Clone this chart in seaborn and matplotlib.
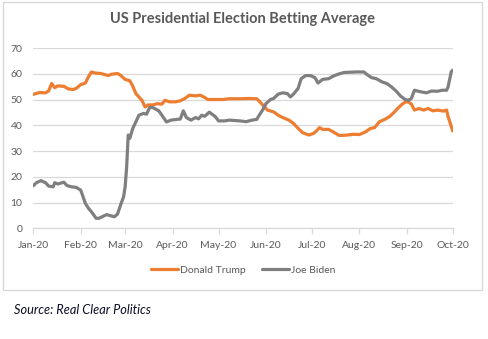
import matplotlib
matplotlib.use("Agg")
import matplotlib.pyplot as plt
import matplotlib.dates as mdates
from matplotlib.patches import Rectangle
from matplotlib.lines import Line2D
import seaborn as sns
import pandas as pd

title = "US Presidential Election Betting Average"
source = "Source: Real Clear Politics"
series_names = ["Donald Trump", "Joe Biden"]
colors = ["#ED7D31", "#7F7F7F"]

trump_dates = ["2020-01-01", "2020-01-05", "2020-01-09", "2020-01-11", "2020-01-13", "2020-01-15",
               "2020-01-17", "2020-01-21", "2020-01-24", "2020-01-27", "2020-01-29", "2020-02-01",
               "2020-02-04", "2020-02-06", "2020-02-08", "2020-02-10", "2020-02-14", "2020-02-19",
               "2020-02-21", "2020-02-25", "2020-02-27", "2020-03-01", "2020-03-04", "2020-03-06",
               "2020-03-08", "2020-03-10", "2020-03-12", "2020-03-14", "2020-03-16", "2020-03-19",
               "2020-03-22", "2020-03-25", "2020-03-27", "2020-03-30", "2020-04-03", "2020-04-06",
               "2020-04-09", "2020-04-12", "2020-04-16", "2020-04-19", "2020-04-22", "2020-04-24",
               "2020-04-29", "2020-05-04", "2020-05-08", "2020-05-15", "2020-05-21", "2020-05-26",
               "2020-05-28", "2020-05-30", "2020-06-02", "2020-06-06", "2020-06-09", "2020-06-12",
               "2020-06-16", "2020-06-19", "2020-06-22", "2020-06-25", "2020-06-29", "2020-07-02",
               "2020-07-04", "2020-07-06", "2020-07-08", "2020-07-12", "2020-07-15", "2020-07-19",
               "2020-07-24", "2020-07-28", "2020-08-01", "2020-08-05", "2020-08-08", "2020-08-11",
               "2020-08-14", "2020-08-18", "2020-08-21", "2020-08-24", "2020-08-26", "2020-08-29",
               "2020-08-31", "2020-09-02", "2020-09-04", "2020-09-06", "2020-09-09", "2020-09-12",
               "2020-09-15", "2020-09-18", "2020-09-21", "2020-09-25", "2020-09-27", "2020-09-28",
               "2020-09-30", "2020-10-01"]
trump_vals = [52.0, 52.7, 52.6, 53.3, 56.2, 54.6,
              55.3, 55.1, 54.1, 53.9, 54.3, 55.8,
              56.4, 58.8, 60.7, 60.3, 60.1, 59.3,
              59.8, 60.1, 59.4, 57.8, 57.3, 55.2,
              52.3, 51.0, 49.7, 47.1, 47.9, 47.9,
              48.4, 48.2, 49.7, 49.1, 49.1, 49.5,
              50.4, 51.7, 51.4, 51.7, 50.8, 50.0,
              50.0, 50.0, 50.3, 50.3, 50.4, 50.3,
              49.1, 47.8, 45.9, 45.2, 43.9, 43.0,
              42.0, 40.7, 38.8, 37.1, 36.2, 36.8,
              37.8, 39.1, 38.4, 38.4, 37.4, 36.0,
              36.2, 36.5, 36.4, 37.4, 38.7, 39.1,
              41.3, 42.4, 43.5, 45.2, 46.5, 48.2,
              49.0, 49.1, 48.2, 45.9, 46.5, 45.9,
              46.5, 45.6, 45.9, 45.5, 45.9, 43.3,
              39.7, 37.8]

biden_dates = ["2020-01-01", "2020-01-03", "2020-01-06", "2020-01-09", "2020-01-11", "2020-01-14",
               "2020-01-15", "2020-01-17", "2020-01-21", "2020-01-23", "2020-01-26", "2020-01-29",
               "2020-02-01", "2020-02-04", "2020-02-06", "2020-02-08", "2020-02-11", "2020-02-13",
               "2020-02-16", "2020-02-18", "2020-02-21", "2020-02-23", "2020-02-25", "2020-02-27",
               "2020-02-29", "2020-03-01", "2020-03-02", "2020-03-03", "2020-03-04", "2020-03-06",
               "2020-03-08", "2020-03-10", "2020-03-13", "2020-03-15", "2020-03-17", "2020-03-19",
               "2020-03-23", "2020-03-25", "2020-03-28", "2020-03-31", "2020-04-04", "2020-04-06",
               "2020-04-08", "2020-04-10", "2020-04-13", "2020-04-16", "2020-04-18", "2020-04-20",
               "2020-04-22", "2020-04-25", "2020-04-29", "2020-05-01", "2020-05-05", "2020-05-08",
               "2020-05-15", "2020-05-19", "2020-05-23", "2020-05-26", "2020-05-28", "2020-05-30",
               "2020-06-01", "2020-06-04", "2020-06-06", "2020-06-09", "2020-06-12", "2020-06-15",
               "2020-06-17", "2020-06-19", "2020-06-22", "2020-06-24", "2020-06-27", "2020-06-30",
               "2020-07-03", "2020-07-05", "2020-07-08", "2020-07-12", "2020-07-15", "2020-07-18",
               "2020-07-22", "2020-07-26", "2020-07-30", "2020-08-04", "2020-08-06", "2020-08-09",
               "2020-08-12", "2020-08-16", "2020-08-19", "2020-08-22", "2020-08-25", "2020-08-28",
               "2020-08-31", "2020-09-02", "2020-09-04", "2020-09-06", "2020-09-10", "2020-09-14",
               "2020-09-17", "2020-09-21", "2020-09-24", "2020-09-27", "2020-09-28", "2020-09-30",
               "2020-10-01"]
biden_vals = [16.5, 17.7, 18.5, 17.7, 16.4, 16.1,
              17.7, 17.2, 17.9, 16.6, 16.1, 15.9,
              14.8, 9.7, 7.8, 6.4, 3.9, 3.9,
              4.8, 5.3, 4.8, 4.5, 5.5, 9.0,
              12.3, 16.1, 23.9, 36.2, 34.9, 38.8,
              41.3, 43.9, 44.6, 44.3, 46.9, 46.9,
              45.6, 43.9, 41.3, 42.0, 42.3, 42.4,
              45.6, 43.0, 42.0, 43.0, 42.5, 43.9,
              43.5, 45.1, 43.3, 41.7, 41.7, 42.0,
              41.7, 41.4, 42.0, 42.3, 44.3, 46.1,
              48.4, 50.0, 50.4, 52.1, 52.6, 52.3,
              51.0, 52.1, 54.3, 58.1, 59.3, 59.3,
              58.5, 56.4, 57.8, 58.1, 59.1, 59.8,
              60.5, 60.6, 60.7, 60.7, 59.7, 58.5,
              58.1, 56.8, 56.2, 54.9, 53.3, 51.3,
              50.0, 49.7, 50.4, 53.6, 53.0, 52.6,
              53.3, 53.2, 53.6, 53.6, 54.9, 60.7,
              61.4]

y_ticks = [0, 10, 20, 30, 40, 50, 60, 70]

df = pd.concat([
    pd.DataFrame({"date": pd.to_datetime(trump_dates), "value": trump_vals, "candidate": series_names[0]}),
    pd.DataFrame({"date": pd.to_datetime(biden_dates), "value": biden_vals, "candidate": series_names[1]}),
])

sns.set_theme(style="white")
plt.rcParams["font.family"] = ["Lato", "DejaVu Sans"]

W, H = 488, 339
fig = plt.figure(figsize=(W / 100, H / 100), dpi=100)
fig.patch.set_facecolor("white")

# chart frame
fig.add_artist(Rectangle((3 / W, 1 - 290 / H), (482 - 3) / W, (290 - 2) / H,
                         transform=fig.transFigure, fill=False, edgecolor="#d9d9d9", lw=1.0))

ax = fig.add_axes([33.3 / W, 1 - 228.3 / H, 419.4 / W, (228.3 - 48) / H])
ax.set_facecolor("white")

sns.lineplot(data=df, x="date", y="value", hue="candidate", palette=colors,
             hue_order=series_names, linewidth=2.3, ax=ax, legend=False, zorder=3)

ax.set_xlim(pd.Timestamp("2020-01-01"), pd.Timestamp("2020-10-01"))
ax.set_ylim(0, 70)
ax.set_yticks(y_ticks)
ax.yaxis.grid(True, color="#d9d9d9", lw=0.9)
ax.xaxis.grid(False)
for s in ["left", "right", "top"]:
    ax.spines[s].set_visible(False)
ax.spines["bottom"].set_color("#d9d9d9")
ax.spines["bottom"].set_linewidth(0.9)
ax.xaxis.set_major_locator(mdates.MonthLocator())
ax.xaxis.set_major_formatter(mdates.DateFormatter("%b-%y"))
ax.tick_params(axis="x", bottom=True, direction="out", length=4, width=0.9,
               color="#d9d9d9", labelsize=7.5, labelcolor="#595959", pad=5)
ax.tick_params(axis="y", left=False, length=0, labelsize=7.5, labelcolor="#595959", pad=8)
ax.set_xlabel("")
ax.set_ylabel("")

fig.text(243 / W, 1 - 19 / H, title, ha="center", va="center", fontsize=10.5,
         fontweight="bold", color="#595959")

handles = [Line2D([0], [0], color=c, lw=2.3) for c in colors]
fig.legend(handles, series_names, loc="center", bbox_to_anchor=(243 / W, 1 - 270 / H),
           ncol=2, frameon=False, fontsize=7.5, handlelength=2.6, handletextpad=0.2,
           columnspacing=1.5, labelcolor="#595959")

fig.text(14 / W, 1 - 310 / H, source, ha="left", va="center", fontsize=9.2,
         fontstyle="italic", color="#0d0d26")

fig.savefig("out.png", dpi=100)
